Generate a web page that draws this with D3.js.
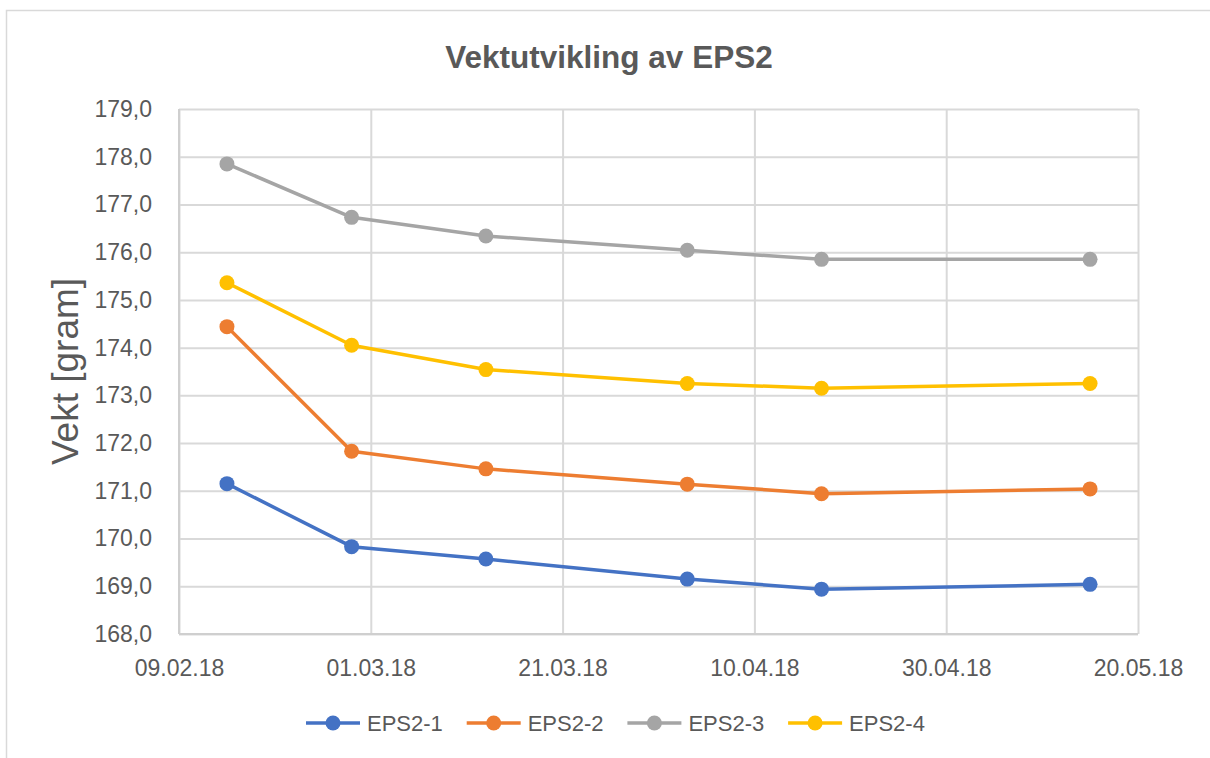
<!DOCTYPE html>
<html>
<head>
<meta charset="utf-8">
<script src="https://cdn.jsdelivr.net/npm/d3@7"></script>
<style>
  body { margin: 0; background: #fff; }
  text { font-family: "Liberation Sans", Arial, sans-serif; fill: #595959; }
</style>
</head>
<body>
<div id="chart-area"></div>
<script>
// data
const dates = ["14.02.18", "27.02.18", "13.03.18", "03.04.18", "17.04.18", "15.05.18"];
const eps1 = [171.15, 169.83, 169.57, 169.15, 168.94, 169.04];
const eps2 = [174.44, 171.83, 171.46, 171.14, 170.94, 171.04];
const eps3 = [177.85, 176.73, 176.34, 176.04, 175.85, 175.85];
const eps4 = [175.36, 174.05, 173.54, 173.25, 173.15, 173.25];
const seriesNames = ["EPS2-1", "EPS2-2", "EPS2-3", "EPS2-4"];
const xTickLabels = ["09.02.18", "01.03.18", "21.03.18", "10.04.18", "30.04.18", "20.05.18"];
const yTicks = [168, 169, 170, 171, 172, 173, 174, 175, 176, 177, 178, 179];

const colors = ["#4472C4", "#ED7D31", "#A5A5A5", "#FFC000"];
const width = 1210, height = 758;
const margin = {top: 109, right: 72, bottom: 124, left: 179};

const parseTime = d3.timeParse("%d.%m.%y");
const fmtTime = d3.timeFormat("%d.%m.%y");

const series = [eps1, eps2, eps3, eps4].map((values, i) => ({
    name: seriesNames[i],
    color: colors[i],
    values: values.map((v, j) => ({date: parseTime(dates[j]), val: v}))
}));
const xTicks = xTickLabels.map(parseTime);

const x = d3.scaleTime()
    .domain(d3.extent(xTicks))
    .range([margin.left, width - margin.right]);

const y = d3.scaleLinear()
    .domain(d3.extent(yTicks))
    .range([height - margin.bottom, margin.top]);

const svg = d3.select("#chart-area").append("svg")
    .attr("width", width)
    .attr("height", height);

// outer chart border
svg.append("rect")
    .attr("x", 6.5).attr("y", 10.5)
    .attr("width", width).attr("height", height)
    .attr("fill", "none")
    .attr("stroke", "#d9d9d9")
    .attr("stroke-width", 1.5);

// gridlines + y labels
svg.append("g")
    .attr("transform", `translate(${margin.left},0)`)
    .call(d3.axisLeft(y).tickValues(yTicks)
        .tickSize(-(width - margin.left - margin.right))
        .tickPadding(27)
        .tickFormat(d => d3.format(".1f")(d).replace(".", ",")))
    .call(g => g.select(".domain").remove())
    .call(g => g.selectAll(".tick line").attr("stroke", "#d9d9d9").attr("stroke-width", 2))
    .call(g => g.selectAll(".tick text")
        .attr("font-size", 23).attr("fill", "#595959")
        .attr("font-family", "Liberation Sans, Arial, sans-serif"));

svg.append("g")
    .attr("transform", `translate(0,${height - margin.bottom})`)
    .call(d3.axisBottom(x).tickValues(xTicks)
        .tickSize(-(height - margin.top - margin.bottom))
        .tickPadding(26)
        .tickFormat(fmtTime))
    .call(g => g.select(".domain").remove())
    .call(g => g.selectAll(".tick line").attr("stroke", "#d9d9d9").attr("stroke-width", 2))
    .call(g => g.selectAll(".tick text")
        .attr("font-size", 23).attr("fill", "#595959")
        .attr("font-family", "Liberation Sans, Arial, sans-serif"));

// axis lines
svg.append("line")
    .attr("x1", margin.left).attr("x2", width - margin.right)
    .attr("y1", height - margin.bottom).attr("y2", height - margin.bottom)
    .attr("stroke", "#cfcfcf").attr("stroke-width", 2);
svg.append("line")
    .attr("x1", margin.left).attr("x2", margin.left)
    .attr("y1", margin.top).attr("y2", height - margin.bottom)
    .attr("stroke", "#cfcfcf").attr("stroke-width", 2);

// title
svg.append("text")
    .attr("x", 609).attr("y", 68)
    .attr("text-anchor", "middle")
    .attr("font-size", 31.5)
    .attr("font-weight", "bold")
    .text("Vektutvikling av EPS2");

// y axis title
svg.append("text")
    .attr("transform", `translate(78,${(margin.top + height - margin.bottom) / 2}) rotate(-90)`)
    .attr("text-anchor", "middle")
    .attr("font-size", 37)
    .text("Vekt [gram]");

const line = d3.line()
    .x(d => x(d.date))
    .y(d => y(d.val));

const sg = svg.append("g")
    .selectAll("g")
    .data(series)
    .enter().append("g");

sg.append("path")
    .attr("fill", "none")
    .attr("stroke", d => d.color)
    .attr("stroke-width", 3.5)
    .attr("stroke-linejoin", "round")
    .attr("d", d => line(d.values));

sg.selectAll("circle")
    .data(d => d.values.map(v => ({...v, color: d.color})))
    .enter().append("circle")
    .attr("cx", d => x(d.date))
    .attr("cy", d => y(d.val))
    .attr("r", 7.5)
    .attr("fill", d => d.color);

// legend
const legend = svg.append("g")
    .selectAll("g")
    .data(series)
    .enter().append("g")
    .attr("transform", (d, i) => `translate(${333 + i * 160.7},723)`);

legend.append("line")
    .attr("x1", -27).attr("x2", 27)
    .attr("stroke", d => d.color)
    .attr("stroke-width", 3.5);

legend.append("circle")
    .attr("r", 7.5)
    .attr("fill", d => d.color);

legend.append("text")
    .attr("x", 34).attr("dy", "0.35em")
    .attr("font-size", 22)
    .text(d => d.name);
</script>
</body>
</html>
